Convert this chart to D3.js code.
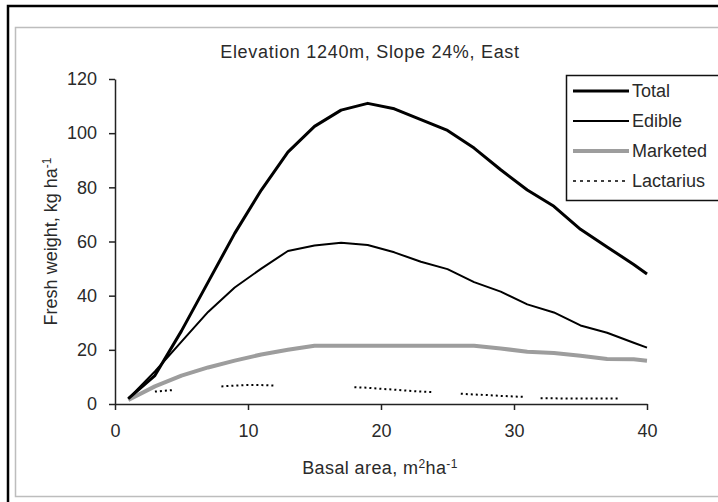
<!DOCTYPE html>
<html>
<head>
<meta charset="utf-8">
<script src="https://cdn.jsdelivr.net/npm/d3@7/dist/d3.min.js"></script>
<style>
  body { margin: 0; background: #fff; }
  text { font-family: "Liberation Sans", Arial, sans-serif; fill: #2a2a2a; }
</style>
</head>
<body>
<div id="chart"></div>
<script>
// values
const basal = [1, 3, 5, 7, 9, 11, 13, 15, 17, 19, 21, 23, 25, 27, 29, 31, 33, 35, 37, 39, 40]
const total = [2, 10.5, 27, 45, 63, 79, 93, 102.5, 108.5, 111, 109, 105, 101, 94.5, 86.5, 79, 73, 64.5, 58, 51.5, 48]
const edible = [2, 12, 23, 34, 43, 50, 56.5, 58.5, 59.5, 58.7, 56, 52.5, 49.8, 45, 41.5, 36.8, 33.8, 29, 26.3, 22.6, 20.8]
const marketed = [1.5, 6.5, 10.5, 13.5, 16, 18.3, 20, 21.5, 21.5, 21.5, 21.5, 21.5, 21.5, 21.5, 20.5, 19.3, 18.8, 17.8, 16.6, 16.5, 16]
const lactBasal = [3, 4.5, 5, 8, 9, 10, 11, 12, 13, 18, 19, 20, 21, 22, 23, 24, 25, 26, 27, 28, 29, 30.8, 31, 32, 33, 34, 35, 36, 37, 38]
const lactarius = [4.6, 5.2, null, 6.5, 6.8, 7, 7, 6.8, null, 6.2, 6, 5.6, 5.3, 4.9, 4.6, 4.4, null, 3.8, 3.5, 3.3, 3.0, 2.6, null, 2.1, 2.1, 2, 2, 2, 2, 2]
const xTicks = [0, 10, 20, 30, 40]
const yTicks = [0, 20, 40, 60, 80, 100, 120]

const width = 718
const height = 502
const margin = { left: 115, right: 71, top: 79, bottom: 98 }

const svg = d3.select("#chart")
    .append("svg")
    .attr("width", width)
    .attr("height", height)

// outer frame + chart area border
svg.append("rect")
    .attr("x", 8).attr("y", 6)
    .attr("width", 730).attr("height", 520)
    .attr("fill", "none")
    .attr("stroke", "#000")
    .attr("stroke-width", 2.5)

svg.append("rect")
    .attr("x", 15.5).attr("y", 27.5)
    .attr("width", 730).attr("height", 469)
    .attr("fill", "none")
    .attr("stroke", "#bdbdbd")
    .attr("stroke-width", 1.5)

let x = d3.scaleLinear()
    .domain([0, 40])
    .range([margin.left, width - margin.right])

let y = d3.scaleLinear()
    .domain([0, 120])
    .range([height - margin.bottom, margin.top])

const xAxis = svg.append("g")
    .attr("transform", `translate(0,${height - margin.bottom})`)
    .call(d3.axisBottom(x).tickValues(xTicks).tickSize(6).tickPadding(14).tickSizeOuter(0))

const yAxis = svg.append("g")
    .attr("transform", `translate(${margin.left},0)`)
    .call(d3.axisLeft(y).tickValues(yTicks).tickSize(6).tickPadding(12).tickSizeOuter(0))

for (const ax of [xAxis, yAxis]) {
    ax.select(".domain").attr("stroke", "#222").attr("stroke-width", 1.5)
    ax.selectAll(".tick line").attr("stroke", "#222").attr("stroke-width", 1.5)
    ax.selectAll(".tick text").style("font-size", "18px").attr("fill", "#2a2a2a")
}

// series lines
const line = (xs, ys) => d3.line()
    .defined((d, i) => ys[i] !== null)
    .x((d, i) => x(xs[i]))
    .y((d, i) => y(ys[i]))(xs)

svg.append("path")
    .attr("d", line(lactBasal, lactarius))
    .attr("fill", "none")
    .attr("stroke", "#000")
    .attr("stroke-width", 2)
    .attr("stroke-dasharray", "2,3")

svg.append("path")
    .attr("d", line(basal, marketed))
    .attr("fill", "none")
    .attr("stroke", "#9d9d9d")
    .attr("stroke-width", 4)
    .attr("stroke-linejoin", "round")

svg.append("path")
    .attr("d", line(basal, edible))
    .attr("fill", "none")
    .attr("stroke", "#000")
    .attr("stroke-width", 2)
    .attr("stroke-linejoin", "round")

svg.append("path")
    .attr("d", line(basal, total))
    .attr("fill", "none")
    .attr("stroke", "#000")
    .attr("stroke-width", 3)
    .attr("stroke-linejoin", "round")

// title
svg.append("text")
    .attr("x", 370)
    .attr("y", 58)
    .attr("text-anchor", "middle")
    .style("font-size", "18px")
    .style("letter-spacing", "0.7px")
    .text("Elevation 1240m, Slope 24%, East")

// x axis title
const xt = svg.append("text")
    .attr("x", 380)
    .attr("y", 474)
    .attr("text-anchor", "middle")
    .style("font-size", "18px")
    .style("letter-spacing", "0.4px")
xt.append("tspan").text("Basal area, m")
xt.append("tspan").attr("dy", -6).style("font-size", "12px").text("2")
xt.append("tspan").attr("dy", 6).text("ha")
xt.append("tspan").attr("dy", -6).style("font-size", "12px").text("-1")

// y axis title
const yt = svg.append("text")
    .attr("transform", `translate(57,${(margin.top + height - margin.bottom) / 2}) rotate(-90)`)
    .attr("text-anchor", "middle")
    .style("font-size", "18px")
yt.append("tspan").text("Fresh weight,  kg ha")
yt.append("tspan").attr("dy", -6).style("font-size", "12px").text("-1")

// legend
const legendItems = [
    { name: "Total", color: "#000", w: 3, dash: null },
    { name: "Edible", color: "#000", w: 2, dash: null },
    { name: "Marketed", color: "#9d9d9d", w: 4, dash: null },
    { name: "Lactarius", color: "#000", w: 1.5, dash: "3,4" }
]

const legend = svg.append("g")
legend.append("rect")
    .attr("x", 566.5).attr("y", 75.5)
    .attr("width", 200).attr("height", 125)
    .attr("fill", "#fff")
    .attr("stroke", "#111")
    .attr("stroke-width", 1.5)

const rows = legend.selectAll("g.row")
    .data(legendItems)
    .join("g")
    .attr("class", "row")
    .attr("transform", (d, i) => `translate(0,${91 + i * 30})`)

rows.append("line")
    .attr("x1", 573).attr("x2", 629)
    .attr("stroke", d => d.color)
    .attr("stroke-width", d => d.w)
    .attr("stroke-dasharray", d => d.dash)

rows.append("text")
    .attr("x", 632)
    .attr("dy", "0.35em")
    .style("font-size", "18px")
    .text(d => d.name)
</script>
</body>
</html>
